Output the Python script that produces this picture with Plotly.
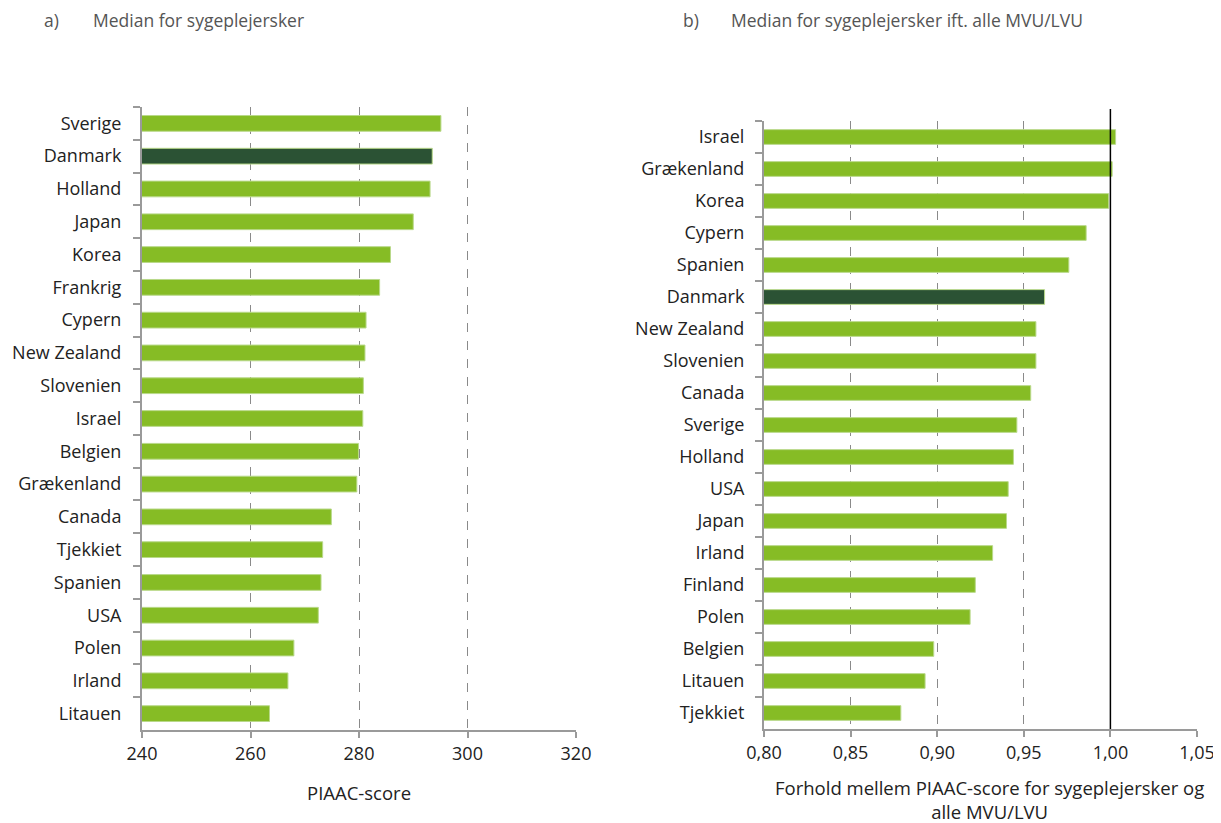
import plotly.graph_objects as go

# Panel a
countries_a = ["Sverige", "Danmark", "Holland", "Japan", "Korea", "Frankrig", "Cypern",
               "New Zealand", "Slovenien", "Israel", "Belgien", "Grækenland", "Canada",
               "Tjekkiet", "Spanien", "USA", "Polen", "Irland", "Litauen"]
values_a = [295.1, 293.5, 293.1, 290.0, 285.8, 283.8, 281.3, 281.1, 280.8, 280.7,
            279.9, 279.6, 274.9, 273.3, 273.0, 272.5, 268.0, 266.9, 263.5]

# Panel b
countries_b = ["Israel", "Grækenland", "Korea", "Cypern", "Spanien", "Danmark", "New Zealand",
               "Slovenien", "Canada", "Sverige", "Holland", "USA", "Japan", "Irland",
               "Finland", "Polen", "Belgien", "Litauen", "Tjekkiet"]
values_b = [1.003, 1.001, 0.999, 0.986, 0.976, 0.962, 0.957, 0.957, 0.954, 0.946,
            0.944, 0.941, 0.940, 0.932, 0.922, 0.919, 0.898, 0.893, 0.879]

GREEN = "#86BC25"
DARK = "#2B5234"
FONT = "Open Sans"

def colors(cs):
    return [DARK if c == "Danmark" else GREEN for c in cs]

fig = go.Figure()
fig.add_trace(go.Bar(x=values_a, y=countries_a, orientation="h",
                     marker=dict(color=colors(countries_a), line=dict(color="#b9d98a", width=1)),
                     width=0.48, xaxis="x", yaxis="y", showlegend=False))
fig.add_trace(go.Bar(x=values_b, y=countries_b, orientation="h",
                     marker=dict(color=colors(countries_b), line=dict(color="#b9d98a", width=1)),
                     width=0.46, xaxis="x2", yaxis="y2", showlegend=False))

W, H = 1213, 823
OX, OY = 8, 8  # page offset compensation


def px(x):
    return (x - OX) / W


def py(y):
    return 1 - (y - OY) / H


axcol = "#9a9a9a"
common_x = dict(showline=True, linecolor=axcol, linewidth=2, ticks="outside", ticklen=6,
                tickcolor=axcol, tickwidth=2, showgrid=True, gridcolor="#8a8a8a",
                griddash="dash", gridwidth=1, zeroline=False, automargin=False,
                tickfont=dict(family=FONT, size=18, color="#222"))
common_y = dict(showline=True, linecolor=axcol, linewidth=2, ticks="outside", ticklen=7,
                tickcolor=axcol, tickwidth=2, tickson="boundaries", showgrid=False,
                autorange="reversed", automargin=False,
                tickfont=dict(family=FONT, size=18, color="#222"))

title_font = dict(family=FONT, size=17.5, color="#555")
axis_title_font = dict(family=FONT, size=18.5, color="#222")

fig.update_layout(
    width=W, height=H,
    margin=dict(l=0, r=0, t=0, b=0, autoexpand=False),
    paper_bgcolor="white", plot_bgcolor="white",
    separators=", ",
    xaxis=dict(domain=[px(142), px(576)], range=[240, 320], dtick=20, anchor="y", **common_x),
    yaxis=dict(domain=[py(730), py(107)], anchor="x", ticklabelstandoff=15, **common_y),
    xaxis2=dict(domain=[px(764), px(1197)], range=[0.80, 1.05], dtick=0.05, tickformat=".2f",
                anchor="y2", **common_x),
    yaxis2=dict(domain=[py(729), py(121)], anchor="x2", ticklabelstandoff=14, **common_y),
    shapes=[dict(type="line", xref="x2", yref="paper", x0=1.0, x1=1.0,
                 y0=py(729), y1=py(109), line=dict(color="black", width=1.5))],
    annotations=[
        dict(text="a)", x=px(42), y=py(20), xref="paper", yref="paper", xanchor="left",
             yanchor="middle", showarrow=False, font=title_font),
        dict(text="Median for sygeplejersker", x=px(91), y=py(20), xref="paper", yref="paper",
             xanchor="left", yanchor="middle", showarrow=False, font=title_font),
        dict(text="b)", x=px(681), y=py(20), xref="paper", yref="paper", xanchor="left",
             yanchor="middle", showarrow=False, font=title_font),
        dict(text="Median for sygeplejersker ift. alle MVU/LVU", x=px(729), y=py(20),
             xref="paper", yref="paper", xanchor="left", yanchor="middle", showarrow=False,
             font=title_font),
        dict(text="PIAAC-score", x=px((142 + 576) / 2), y=py(792), xref="paper", yref="paper",
             xanchor="center", yanchor="middle", showarrow=False, font=axis_title_font),
        dict(text="Forhold mellem PIAAC-score for sygeplejersker og<br>alle MVU/LVU",
             x=px(989), y=py(799), xref="paper", yref="paper",
             xanchor="center", yanchor="middle", showarrow=False, align="center",
             font=axis_title_font),
    ],
)

fig.write_html("out.html")
